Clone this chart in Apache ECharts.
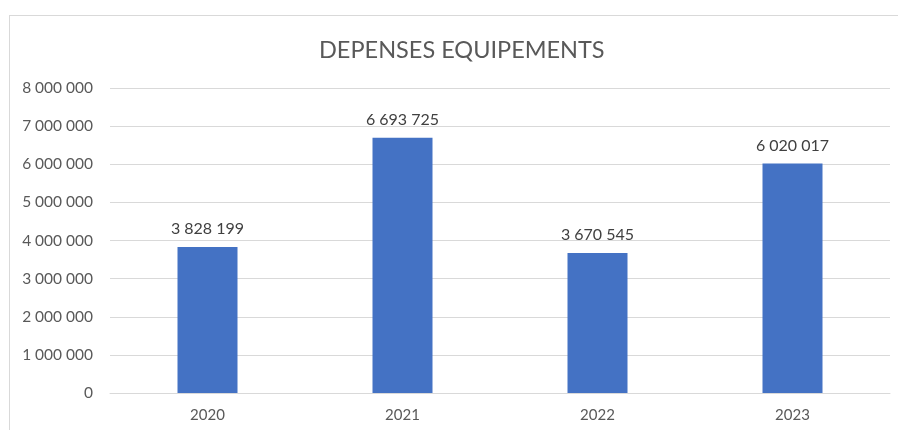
<!DOCTYPE html>
<html><head><meta charset="utf-8">
<script src="https://cdn.jsdelivr.net/npm/echarts@6/dist/echarts.min.js"></script>
<style>html,body{margin:0;padding:0;background:#fff}#c{width:898px;height:430px}</style>
</head><body><div id="c"></div>
<script>
const categories = ['2020', '2021', '2022', '2023'];
const values = [3828199, 6693725, 3670545, 6020017];
const yTicks = [0, 1000000, 2000000, 3000000, 4000000, 5000000, 6000000, 7000000, 8000000];
const titleText = 'DEPENSES EQUIPEMENTS';

function fmt(v) { return String(Math.round(v)).replace(/\B(?=(\d{3})+(?!\d))/g, ' '); }

const chart = echarts.init(document.getElementById('c'));
chart.setOption({
  animation: false,
  textStyle: { fontFamily: 'Lato' },
  title: { text: titleText, left: 314, top: 33, textStyle: { fontFamily: 'Lato', fontSize: 23.5, fontWeight: 'normal', color: '#595959' } },
  graphic: [
    { type: 'line', shape: { x1: 10, y1: 15.5, x2: 898, y2: 15.5 }, style: { stroke: '#d9d9d9', lineWidth: 1 } },
    { type: 'line', shape: { x1: 9.5, y1: 15, x2: 9.5, y2: 430 }, style: { stroke: '#d9d9d9', lineWidth: 1 } }
  ],
  grid: { left: 110, right: 8, top: 88, bottom: 37 },
  xAxis: {
    type: 'category', data: categories,
    axisLine: { lineStyle: { color: '#d9d9d9' } }, axisTick: { show: false },
    axisLabel: { color: '#595959', fontSize: 15, margin: 15 }
  },
  yAxis: {
    type: 'value', min: yTicks[0], max: yTicks[yTicks.length - 1], interval: 1000000,
    axisLine: { show: false }, axisTick: { show: false },
    splitLine: { lineStyle: { color: '#d9d9d9' } },
    axisLabel: { color: '#595959', fontSize: 15.5, margin: 17, formatter: fmt }
  },
  series: [{
    type: 'bar', data: values, barWidth: 60,
    itemStyle: { color: '#4472C4' },
    label: { show: true, position: 'top', distance: 10, color: '#404040', fontSize: 16, formatter: p => fmt(p.value) }
  }]
});
</script></body></html>
